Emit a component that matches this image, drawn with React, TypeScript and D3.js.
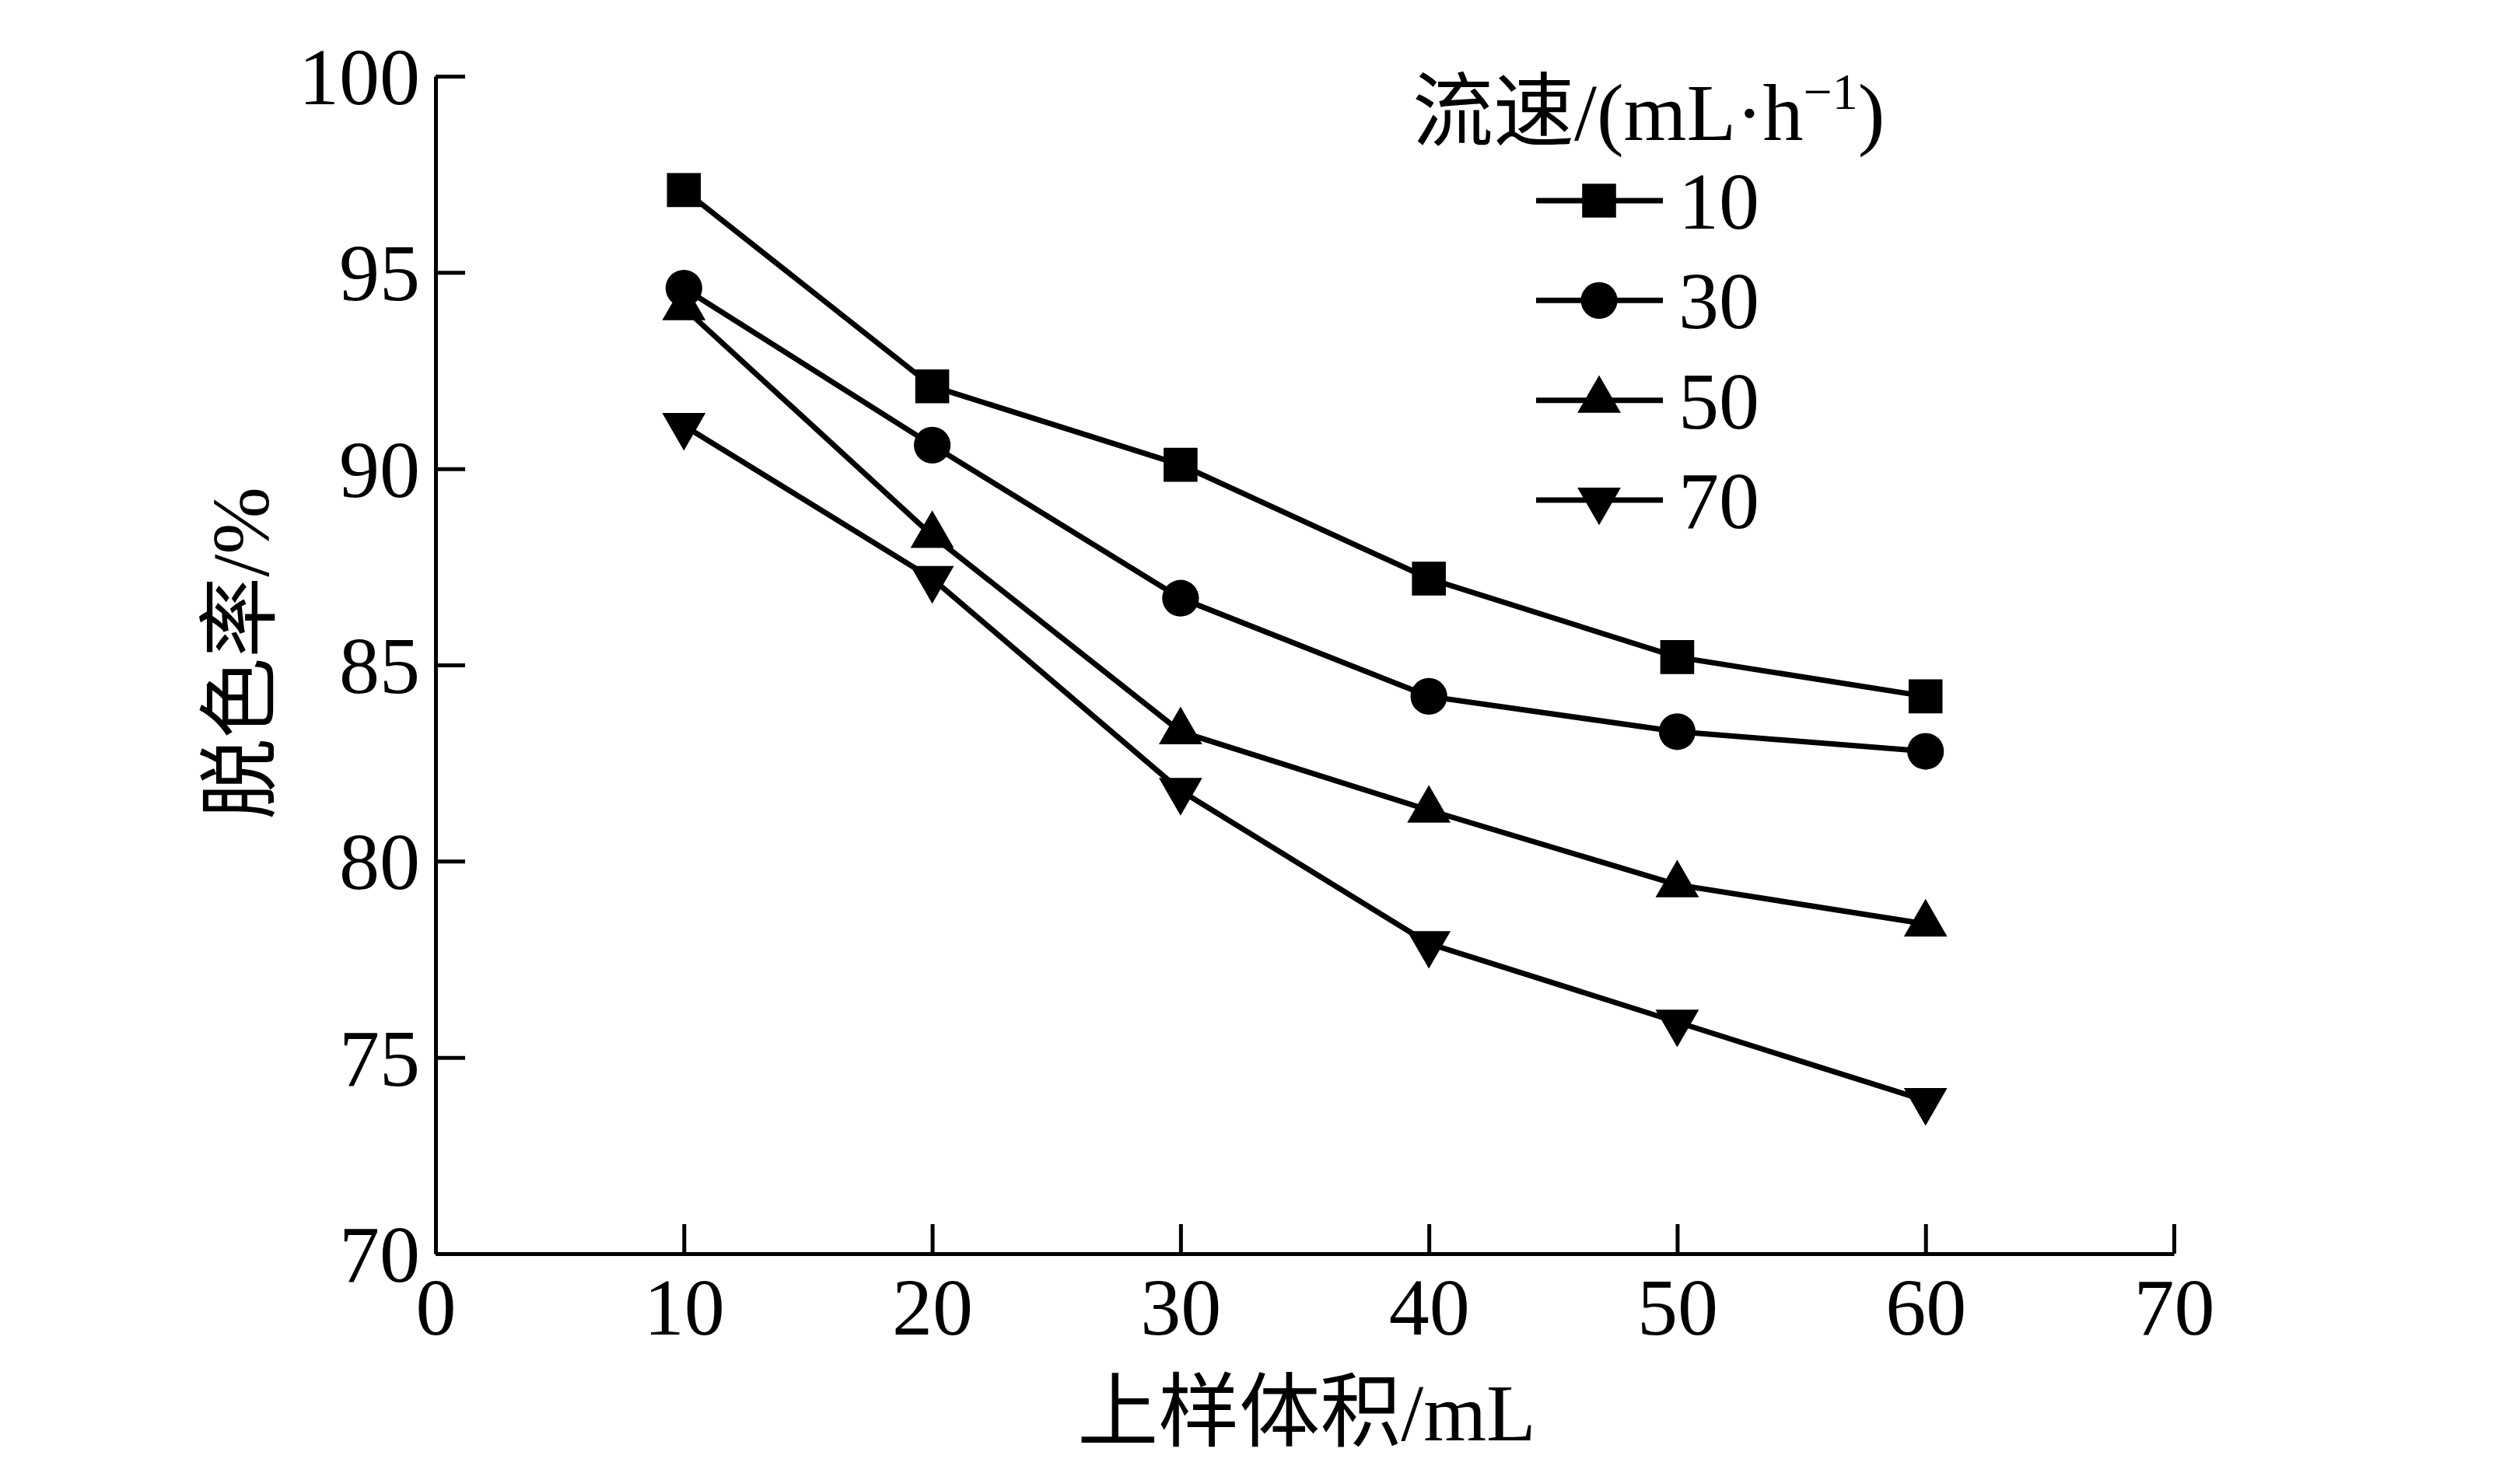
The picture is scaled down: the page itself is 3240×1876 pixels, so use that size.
import { useEffect, useRef } from 'react';
import * as d3 from 'd3';

const W = 3240;
const H = 1876;

const volumes = [10, 20, 30, 40, 50, 60];
const flowRates = ['10', '30', '50', '70'];
const rate10 = [97.1, 92.1, 90.1, 87.2, 85.2, 84.2];
const rate30 = [94.6, 90.6, 86.7, 84.2, 83.3, 82.8];
const rate50 = [94.1, 88.3, 83.3, 81.3, 79.4, 78.4];
const rate70 = [91.1, 87.2, 81.8, 77.9, 75.9, 73.9];
const xTicks = [0, 10, 20, 30, 40, 50, 60, 70];
const yTicks = [70, 75, 80, 85, 90, 95, 100];

const seriesValues = [rate10, rate30, rate50, rate70];
const symbols = [d3.symbolSquare, d3.symbolCircle, d3.symbolTriangle, d3.symbolTriangle];
const symSize = [1900, 1750, 1350, 1350];

const FONT = '"Liberation Serif", "Times New Roman", "Noto Sans CJK SC", serif';
const FS = 104;

const x = d3.scaleLinear([0, 70], [560, 2795]);
const y = d3.scaleLinear([70, 100], [1612, 98]);

export default function App() {
  const svgRef = useRef<SVGSVGElement>(null);

  useEffect(() => {
    const svg = d3.select(svgRef.current);
    svg.selectAll('*').remove();

    // axes, ticks pointing inward
    const gx = svg.append('g').attr('transform', `translate(0,${y(70)})`)
      .call(d3.axisBottom(x).tickValues(xTicks).tickSizeInner(-38).tickSizeOuter(0).tickPadding(30));
    const gy = svg.append('g').attr('transform', `translate(${x(0)},0)`)
      .call(d3.axisLeft(y).tickValues(yTicks).tickSizeInner(-38).tickSizeOuter(0).tickPadding(20));
    [gx, gy].forEach(g => {
      g.selectAll('path,line').attr('stroke', '#000').attr('stroke-width', 5);
      g.selectAll('text').attr('font-family', FONT).attr('font-size', FS).attr('fill', '#000');
    });
    gy.selectAll('text').attr('dy', '0.34em');

    // axis titles
    svg.append('text').attr('x', 1680).attr('y', 1852).attr('text-anchor', 'middle')
      .attr('font-family', FONT).attr('font-size', FS).text('上样体积/mL');
    svg.append('text').attr('transform', `translate(345,${(y(70) + y(100)) / 2 - 15}) rotate(-90)`)
      .attr('text-anchor', 'middle').attr('font-family', FONT).attr('font-size', FS).text('脱色率/%');

    // series
    const line = d3.line<number>().x((_, i) => x(volumes[i])).y(d => y(d));
    seriesValues.forEach((vals, s) => {
      svg.append('path').datum(vals).attr('d', line)
        .attr('fill', 'none').attr('stroke', '#000').attr('stroke-width', 7);
      const sym = d3.symbol(symbols[s], symSize[s]);
      svg.selectAll(null).data(vals).join('path')
        .attr('d', sym)
        .attr('transform', (d, i) => `translate(${x(volumes[i])},${y(d)})${s === 3 ? ' rotate(180)' : ''}`)
        .attr('fill', '#000');
    });

    // legend
    const title = svg.append('text').attr('x', 1816).attr('y', 180)
      .attr('font-family', FONT).attr('font-size', FS);
    title.append('tspan').text('流速/(mL·h');
    title.append('tspan').attr('font-size', 66).attr('dy', -40).text('−1');
    title.append('tspan').attr('dy', 40).text(')');

    const rowY = d3.scalePoint(flowRates, [258, 643]);
    flowRates.forEach((f, s) => {
      const cy = rowY(f)!;
      svg.append('line').attr('x1', 1975).attr('x2', 2138).attr('y1', cy).attr('y2', cy)
        .attr('stroke', '#000').attr('stroke-width', 7);
      const sym = d3.symbol(symbols[s], symSize[s]);
      svg.append('path').attr('d', sym)
        .attr('transform', `translate(2056,${cy})${s === 3 ? ' rotate(180)' : ''}`)
        .attr('fill', '#000');
      svg.append('text').attr('x', 2158).attr('y', cy + 36)
        .attr('font-family', FONT).attr('font-size', FS).text(f);
    });
  }, []);

  return (
    <svg ref={svgRef} width={W} height={H}
      style={{ position: 'absolute', left: 0, top: 0, background: '#fff' }} />
  );
}
